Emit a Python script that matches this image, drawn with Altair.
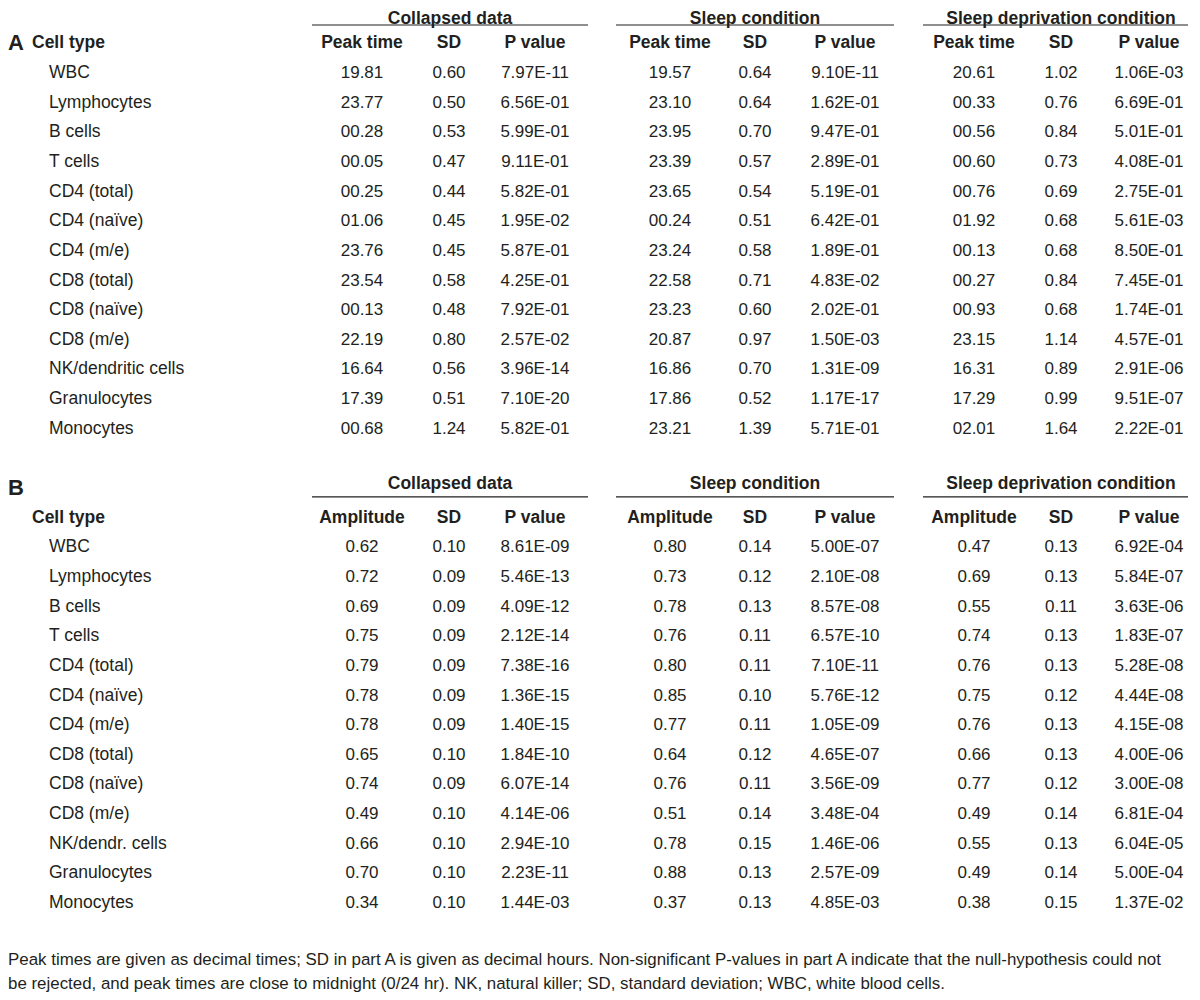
import altair as alt
import pandas as pd

# ---------------- data ----------------
cells_a = ["WBC", "Lymphocytes", "B cells", "T cells", "CD4 (total)", "CD4 (naïve)",
           "CD4 (m/e)", "CD8 (total)", "CD8 (naïve)", "CD8 (m/e)",
           "NK/dendritic cells", "Granulocytes", "Monocytes"]
cells_b = ["WBC", "Lymphocytes", "B cells", "T cells", "CD4 (total)", "CD4 (naïve)",
           "CD4 (m/e)", "CD8 (total)", "CD8 (naïve)", "CD8 (m/e)",
           "NK/dendr. cells", "Granulocytes", "Monocytes"]
groups = ["Collapsed data", "Sleep condition", "Sleep deprivation condition"]
cols_a = ["Peak time", "SD", "P value"]
cols_b = ["Amplitude", "SD", "P value"]

peak_collapsed = [19.81, 23.77, 0.28, 0.05, 0.25, 1.06, 23.76, 23.54, 0.13, 22.19, 16.64, 17.39, 0.68]
peak_sd_collapsed = [0.60, 0.50, 0.53, 0.47, 0.44, 0.45, 0.45, 0.58, 0.48, 0.80, 0.56, 0.51, 1.24]
peak_p_collapsed = [7.97e-11, 6.56e-01, 5.99e-01, 9.11e-01, 5.82e-01, 1.95e-02, 5.87e-01,
                    4.25e-01, 7.92e-01, 2.57e-02, 3.96e-14, 7.10e-20, 5.82e-01]

peak_sleep = [19.57, 23.10, 23.95, 23.39, 23.65, 0.24, 23.24, 22.58, 23.23, 20.87, 16.86, 17.86, 23.21]
peak_sd_sleep = [0.64, 0.64, 0.70, 0.57, 0.54, 0.51, 0.58, 0.71, 0.60, 0.97, 0.70, 0.52, 1.39]
peak_p_sleep = [9.10e-11, 1.62e-01, 9.47e-01, 2.89e-01, 5.19e-01, 6.42e-01, 1.89e-01,
                4.83e-02, 2.02e-01, 1.50e-03, 1.31e-09, 1.17e-17, 5.71e-01]

peak_dep = [20.61, 0.33, 0.56, 0.60, 0.76, 1.92, 0.13, 0.27, 0.93, 23.15, 16.31, 17.29, 2.01]
peak_sd_dep = [1.02, 0.76, 0.84, 0.73, 0.69, 0.68, 0.68, 0.84, 0.68, 1.14, 0.89, 0.99, 1.64]
peak_p_dep = [1.06e-03, 6.69e-01, 5.01e-01, 4.08e-01, 2.75e-01, 5.61e-03, 8.50e-01,
              7.45e-01, 1.74e-01, 4.57e-01, 2.91e-06, 9.51e-07, 2.22e-01]

amp_collapsed = [0.62, 0.72, 0.69, 0.75, 0.79, 0.78, 0.78, 0.65, 0.74, 0.49, 0.66, 0.70, 0.34]
amp_sd_collapsed = [0.10, 0.09, 0.09, 0.09, 0.09, 0.09, 0.09, 0.10, 0.09, 0.10, 0.10, 0.10, 0.10]
amp_p_collapsed = [8.61e-09, 5.46e-13, 4.09e-12, 2.12e-14, 7.38e-16, 1.36e-15, 1.40e-15,
                   1.84e-10, 6.07e-14, 4.14e-06, 2.94e-10, 2.23e-11, 1.44e-03]

amp_sleep = [0.80, 0.73, 0.78, 0.76, 0.80, 0.85, 0.77, 0.64, 0.76, 0.51, 0.78, 0.88, 0.37]
amp_sd_sleep = [0.14, 0.12, 0.13, 0.11, 0.11, 0.10, 0.11, 0.12, 0.11, 0.14, 0.15, 0.13, 0.13]
amp_p_sleep = [5.00e-07, 2.10e-08, 8.57e-08, 6.57e-10, 7.10e-11, 5.76e-12, 1.05e-09,
               4.65e-07, 3.56e-09, 3.48e-04, 1.46e-06, 2.57e-09, 4.85e-03]

amp_dep = [0.47, 0.69, 0.55, 0.74, 0.76, 0.75, 0.76, 0.66, 0.77, 0.49, 0.55, 0.49, 0.38]
amp_sd_dep = [0.13, 0.13, 0.11, 0.13, 0.13, 0.12, 0.13, 0.13, 0.12, 0.14, 0.13, 0.14, 0.15]
amp_p_dep = [6.92e-04, 5.84e-07, 3.63e-06, 1.83e-07, 5.28e-08, 4.44e-08, 4.15e-08,
             4.00e-06, 3.00e-08, 6.81e-04, 6.04e-05, 5.00e-04, 1.37e-02]

footnote = [
    "Peak times are given as decimal times; SD in part A is given as decimal hours. "
    "Non-significant P-values in part A indicate that the null-hypothesis could not",
    "be rejected, and peak times are close to midnight (0/24 hr). NK, natural killer; "
    "SD, standard deviation; WBC, white blood cells.",
]

# ---------------- layout ----------------
W, H = 1184, 984
FONT = "'Liberation Sans Narrow', 'Arial Narrow', 'Liberation Sans', Arial, sans-serif"
INK = "#231f20"
COL_X = [[354, 441, 527], [662, 747, 837], [966, 1053, 1141]]
GROUP_X = [442, 747, 1053]
RULE_X = [(304, 580), (608, 886), (915, 1180)]
LABEL_X, HEADER_X, PANEL_X = 41, 24, 0
A_START, B_START = 0, 16          # line index of first data row in each panel
RULE_OFFSET = {"A": -1.62, "B": -1.7}
FOOT_LINES = [29.93, 30.72]

fmt_peak = lambda v: f"{v:05.2f}"
fmt_2 = lambda v: f"{v:.2f}"
fmt_p = lambda v: f"{v:.2E}"

panels = [
    ("A", A_START, cells_a, cols_a,
     [(peak_collapsed, peak_sd_collapsed, peak_p_collapsed),
      (peak_sleep, peak_sd_sleep, peak_p_sleep),
      (peak_dep, peak_sd_dep, peak_p_dep)], fmt_peak),
    ("B", B_START, cells_b, cols_b,
     [(amp_collapsed, amp_sd_collapsed, amp_p_collapsed),
      (amp_sleep, amp_sd_sleep, amp_p_sleep),
      (amp_dep, amp_sd_dep, amp_p_dep)], fmt_2),
]

values, labels, col_heads, cell_heads, titles_a, titles_b, rules, letters = ([] for _ in range(8))
for letter, start, cells, cols, series, fmt_main in panels:
    for i, c in enumerate(cells):
        labels.append({"x": LABEL_X, "line": start + i, "text": c})
    cell_heads.append({"x": HEADER_X, "line": start - 1, "text": "Cell type"})
    letters.append({"x": PANEL_X, "line": start - (1 if letter == "A" else 2), "text": letter})
    for g, (main, sd, p) in enumerate(series):
        (titles_a if letter == "A" else titles_b).append(
            {"x": GROUP_X[g], "line": start - 2, "text": groups[g]})
        rules.append({"x": RULE_X[g][0], "x2": RULE_X[g][1], "line": start + RULE_OFFSET[letter]})
        for k, col in enumerate(cols):
            col_heads.append({"x": COL_X[g][k], "line": start - 1, "text": col})
        for i in range(len(cells)):
            values.append({"x": COL_X[g][0], "line": start + i, "text": fmt_main(main[i])})
            values.append({"x": COL_X[g][1], "line": start + i, "text": fmt_2(sd[i])})
            values.append({"x": COL_X[g][2], "line": start + i, "text": fmt_p(p[i])})

foot = [{"x": 0, "line": FOOT_LINES[j], "text": t} for j, t in enumerate(footnote)]

xs = alt.Scale(domain=[0, W], range=[0, W], nice=False, zero=False)
ys = alt.Scale(domain=[0, 28], range=[65, 895], nice=False, zero=False)
X = alt.X("x:Q", scale=xs, axis=None)
Y = alt.Y("line:Q", scale=ys, axis=None)


def txt(rows, size, bold=False, align="center", dy=0):
    return alt.Chart(pd.DataFrame(rows)).mark_text(
        font=FONT, fontSize=size, fontWeight="bold" if bold else "normal",
        align=align, baseline="middle", color=INK, dy=dy
    ).encode(x=X, y=Y, text="text:N")


layers = [
    txt(values, 17),
    txt(labels, 17.5, align="left"),
    txt(col_heads, 17.5, bold=True),
    txt(cell_heads, 17.5, bold=True, align="left"),
    txt(titles_a, 17.5, bold=True, dy=5),
    txt(titles_b, 17.5, bold=True, dy=-4),
    txt(letters, 22, bold=True, align="left"),
    txt(foot, 16.9, align="left"),
    alt.Chart(pd.DataFrame(rules)).mark_rule(color=INK, strokeWidth=1.2).encode(
        x=X, x2="x2:Q", y=Y),
]

chart = alt.layer(*layers).properties(
    width=W, height=H, autosize=alt.AutoSizeParams(type="none"), padding=0,
    background="white"
).configure_view(stroke=None)

chart.save("out.html", embed_options={"renderer": "svg", "actions": False})
